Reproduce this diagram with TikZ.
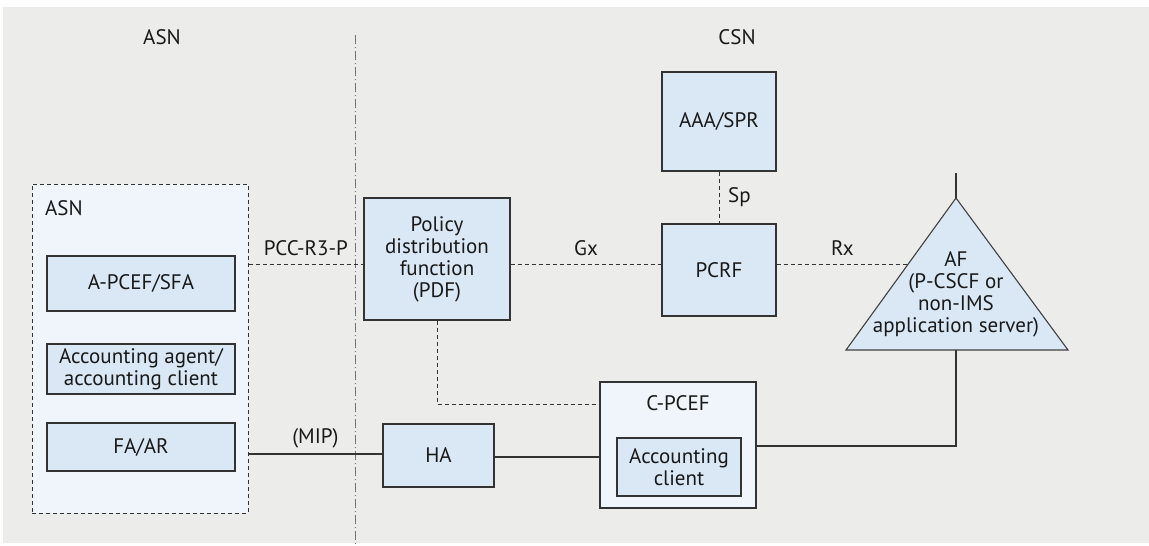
\documentclass[tikz,border=0pt]{standalone}
\usepackage{fontspec}
\setmainfont{PT Sans}
\begin{document}
\begin{tikzpicture}[x=1pt,y=-1pt,
  every node/.style={font=\fontsize{21}{22}\selectfont, text=black!90, align=center, inner sep=0pt},
  box/.style={draw=black!80, line width=1.2pt, fill=boxblue},
  lightbox/.style={draw=black!80, line width=1.2pt, fill=paleblue},
  iface/.style={draw=black!80, line width=1pt, dash pattern=on 4pt off 3pt},
  link/.style={draw=black!80, line width=1.2pt},
  divider/.style={draw=black!55, line width=0.7pt, dash pattern=on 9pt off 3pt on 1pt off 3pt}]
\definecolor{boxblue}{HTML}{DAE8F5}
\definecolor{paleblue}{HTML}{F0F5FB}
\definecolor{bg}{HTML}{ECECEB}
\useasboundingbox (0,0) rectangle (1149,546);
\fill[white] (0,0) rectangle (1149,546);
\fill[bg] (3,7) rectangle (1149,543);

% domain split
\coordinate (divtop) at (355,35);
\coordinate (divbot) at (355,546);
\draw[divider] (divtop) -- (divbot);
\node (asnlabel) at (162,37) {ASN};
\node (csnlabel) at (737,37) {CSN};

% access service network
\node[draw=black!80, line width=1pt, dash pattern=on 4pt off 3pt, fill=paleblue,
      minimum width=216, minimum height=329] (asnbox) at (140,348.5) {};
\node[anchor=west] (asninner) at (45,208) {ASN};
\node[box, minimum width=188, minimum height=55] (apcef) at (141,283.5) {A-PCEF/SFA};
\node[box, minimum width=188, minimum height=50] (acct) at (141,369) {Accounting agent/\\accounting client};
\node[box, minimum width=188, minimum height=48] (faar) at (141,447) {FA/AR};

% connectivity service network
\node[box, minimum width=146, minimum height=122] (pdf) at (437,259) {Policy\\distribution\\function\\(PDF)};
\node[box, minimum width=114, minimum height=99] (aaa) at (719,121.5) {AAA/SPR};
\node[box, minimum width=114, minimum height=92] (pcrf) at (719,270) {PCRF};
\node[box, minimum width=111, minimum height=63] (ha) at (438.5,455.5) {HA};
\node[lightbox, minimum width=156, minimum height=126] (cpcef) at (678,445) {};
\node (cpceflabel) at (678,403) {C-PCEF};
\node[box, minimum width=124, minimum height=58] (accclient) at (679,467) {Accounting\\client};

% application function
\coordinate (afapex) at (956,198);
\coordinate (afleft) at (846,350);
\coordinate (afright) at (1068,350);
\coordinate (afbase) at (956,350);
\coordinate (aftop) at (956,173);
\coordinate (afrx) at (908,264);
\draw[draw=black!75, line width=1.1pt, fill=boxblue] (afapex) -- (afright) -- (afleft) -- cycle;
\node (af) at (956,294) {AF\\(P-CSCF or\\non-IMS\\application server)};
\draw[link] (afapex) -- (aftop);

% reference points
\draw[iface] (asnbox.east |- 0,264) -- node[above=8pt] (r3) {PCC-R3-P} (pdf.west |- 0,264);
\draw[iface] (pdf.east |- 0,264) -- node[above=8pt] (gx) {Gx} (pcrf.west |- 0,264);
\draw[iface] (pcrf.east |- 0,264) -- node[above=8pt] (rx) {Rx} (afrx);
\draw[iface] (aaa.south) -- (pcrf.north);
\node[anchor=west] (sp) at (728,197) {Sp};
\draw[iface] (pdf.south) |- (cpcef.west |- 0,404);

% bearer path
\draw[link] (asnbox.east |- 0,454) -- node[above=5pt] (mip) {(MIP)} (ha.west |- 0,454);
\draw[link] (ha.east |- 0,457) -- (cpcef.west |- 0,457);
\draw[link] (cpcef.east |- 0,446) -| (afbase);
\end{tikzpicture}
\end{document}
